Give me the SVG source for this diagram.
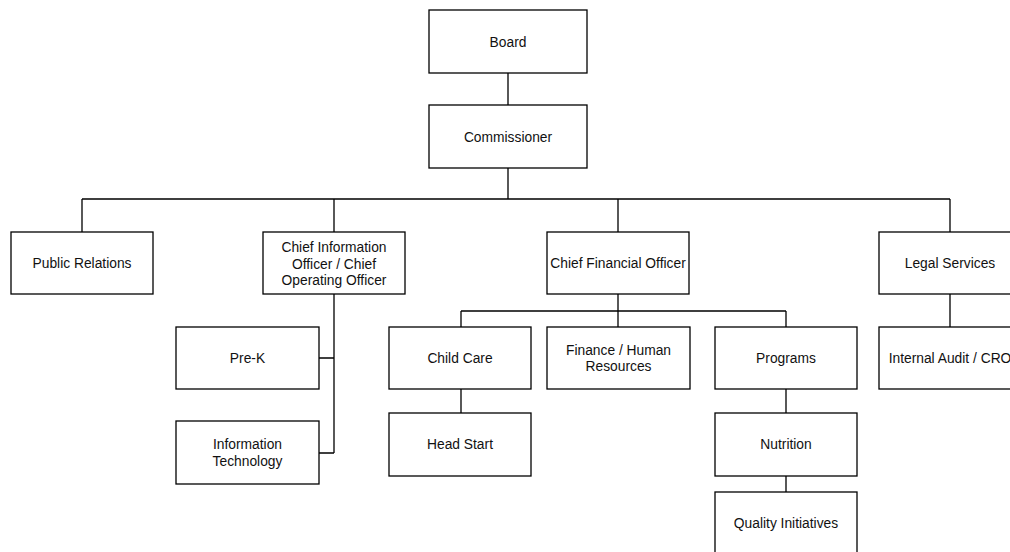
<svg xmlns="http://www.w3.org/2000/svg" width="1010" height="552" viewBox="0 0 1010 552">
<style>
.box{fill:#fff;stroke:#000;stroke-width:1.3}
.ln{fill:none;stroke:#000;stroke-width:1.3}
text{font-family:"Liberation Sans",Arial,sans-serif;font-size:13.8px;fill:#111;text-anchor:middle}
</style>
<rect width="1010" height="552" fill="#fff"/>
<g id="connectors">
<path class="ln" d="M508 73V105M508 168V199M82 199H950M82 199V232M334 199V232M618 199V232M950 199V232"/>
<path class="ln" d="M334 294V453M319 358H334M319 453H334"/>
<path class="ln" d="M618 294V311M461 311H786M461 311V327M618 311V327M786 311V327M461 389V413"/>
<path class="ln" d="M786 389V413M786 476V492M950 294V327"/>
</g>
<g id="board"><rect class="box" x="429" y="10" width="158" height="63"/><text x="508" y="46.5">Board</text></g>
<g id="commissioner"><rect class="box" x="429" y="105" width="158" height="63"/><text x="508" y="141.5">Commissioner</text></g>
<g id="public-relations"><rect class="box" x="11" y="232" width="142" height="62"/><text x="82" y="268">Public Relations</text></g>
<g id="cio"><rect class="box" x="263" y="232" width="142" height="62"/><text x="334" y="252">Chief Information</text><text x="334" y="268.5">Officer / Chief</text><text x="334" y="285">Operating Officer</text></g>
<g id="cfo"><rect class="box" x="547" y="232" width="142" height="62"/><text x="618" y="268">Chief Financial Officer</text></g>
<g id="legal"><rect class="box" x="879" y="232" width="142" height="62"/><text x="950" y="268">Legal Services</text></g>
<g id="pre-k"><rect class="box" x="176" y="327" width="143" height="62"/><text x="247.5" y="363">Pre-K</text></g>
<g id="it"><rect class="box" x="176" y="421" width="143" height="63"/><text x="247.5" y="449">Information</text><text x="247.5" y="466">Technology</text></g>
<g id="child-care"><rect class="box" x="389" y="327" width="142" height="62"/><text x="460" y="363">Child Care</text></g>
<g id="head-start"><rect class="box" x="389" y="413" width="142" height="63"/><text x="460" y="449">Head Start</text></g>
<g id="finance-hr"><rect class="box" x="547" y="327" width="143" height="62"/><text x="618.5" y="354.5">Finance / Human</text><text x="618.5" y="371">Resources</text></g>
<g id="programs"><rect class="box" x="715" y="327" width="142" height="62"/><text x="786" y="363">Programs</text></g>
<g id="nutrition"><rect class="box" x="715" y="413" width="142" height="63"/><text x="786" y="449">Nutrition</text></g>
<g id="quality"><rect class="box" x="715" y="492" width="142" height="63"/><text x="786" y="528">Quality Initiatives</text></g>
<g id="internal-audit"><rect class="box" x="879" y="327" width="142" height="62"/><text x="950" y="363">Internal Audit / CRO</text></g>
</svg>
